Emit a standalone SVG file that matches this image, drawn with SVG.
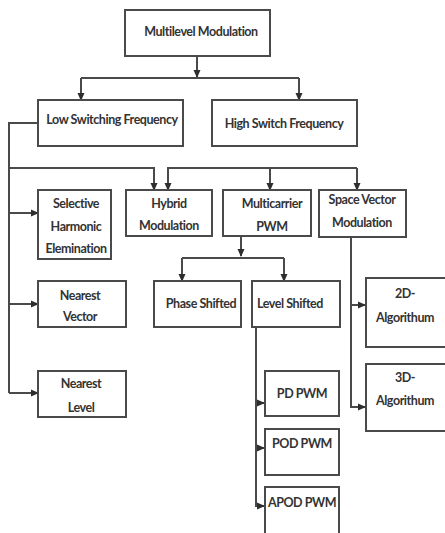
<svg xmlns="http://www.w3.org/2000/svg" width="445" height="533" viewBox="0 0 445 533">
<defs>
<marker id="ah" viewBox="0 0 8 8" refX="7" refY="4" markerWidth="8" markerHeight="8" markerUnits="userSpaceOnUse" orient="auto">
<path d="M0,0.5 L8,4 L0,7.5 Z" fill="#2e2e2e"/>
</marker>
</defs>
<style>
.box{fill:#fff;stroke:#4a4a4a;stroke-width:2}
.t{font-family:Lato,"Open Sans","Liberation Sans",sans-serif;font-weight:bold;font-size:12.5px;fill:#333;text-anchor:middle;letter-spacing:-0.45px}
.c{fill:none;stroke:#4a4a4a;stroke-width:2}
.a{fill:none;stroke:#4a4a4a;stroke-width:2;marker-end:url(#ah)}
</style>
<rect width="445" height="533" fill="#fff"/>
<g id="connectors">
<path class="a" d="M197,56 V77"/>
<path class="c" d="M81,78 H299"/>
<path class="a" d="M81,78 V100"/>
<path class="a" d="M299,78 V100"/>
<path class="c" d="M38,123 H9 V393"/>
<path class="a" d="M9,393 H38"/>
<path class="a" d="M9,213 H38"/>
<path class="a" d="M9,304 H38"/>
<path class="a" d="M9,168 H154 V190"/>
<path class="a" d="M357,168 H168 V190"/>
<path class="a" d="M357,168 V190"/>
<path class="a" d="M270,168 V190"/>
<path class="a" d="M241,236 V256"/>
<path class="c" d="M182,258 H284"/>
<path class="a" d="M182,258 V281"/>
<path class="a" d="M284,258 V281"/>
<path class="c" d="M256,327 V506"/>
<path class="a" d="M255,506 H264"/>
<path class="a" d="M255,403 H264"/>
<path class="a" d="M255,448 H264"/>
<path class="c" d="M351,237 V407"/>
<path class="a" d="M350,407 H365"/>
<path class="a" d="M350,305 H365"/>
</g>
<g id="n-multilevel"><rect class="box" x="125" y="10" width="145" height="46"/><text class="t" x="201" y="36">Multilevel Modulation</text></g>
<g id="n-low"><rect class="box" x="38" y="100" width="145" height="46"/><text class="t" x="112" y="124">Low Switching Frequency</text></g>
<g id="n-high"><rect class="box" x="212" y="100" width="145" height="46"/><text class="t" x="284" y="128">High Switch Frequency</text></g>
<g id="n-she"><rect class="box" x="38" y="190" width="73" height="69"/><text class="t" x="76" y="208">Selective</text><text class="t" x="76" y="231">Harmonic</text><text class="t" x="76" y="253">Elemination</text></g>
<g id="n-hybrid"><rect class="box" x="126" y="190" width="86" height="46"/><text class="t" x="169" y="208">Hybrid</text><text class="t" x="169" y="230">Modulation</text></g>
<g id="n-multicarrier"><rect class="box" x="223" y="190" width="88" height="46"/><text class="t" x="272" y="208">Multicarrier</text><text class="t" x="272" y="231">PWM</text></g>
<g id="n-svm"><rect class="box" x="319" y="190" width="87" height="47"/><text class="t" x="362" y="204">Space Vector</text><text class="t" x="362" y="227">Modulation</text></g>
<g id="n-nv"><rect class="box" x="38" y="281" width="88" height="46"/><text class="t" x="80" y="300">Nearest</text><text class="t" x="80" y="321">Vector</text></g>
<g id="n-phase"><rect class="box" x="154" y="281" width="87" height="46"/><text class="t" x="201" y="308">Phase Shifted</text></g>
<g id="n-level"><rect class="box" x="252" y="281" width="88" height="46"/><text class="t" x="290" y="308">Level Shifted</text></g>
<g id="n-2d"><rect class="box" x="366" y="278" width="82" height="69"/><text class="t" x="405" y="298">2D-</text><text class="t" x="405" y="322">Algorithum</text></g>
<g id="n-nl"><rect class="box" x="38" y="371" width="88" height="46"/><text class="t" x="81" y="388">Nearest</text><text class="t" x="81" y="412">Level</text></g>
<g id="n-pd"><rect class="box" x="265" y="371" width="74" height="45"/><text class="t" x="302" y="398">PD PWM</text></g>
<g id="n-pod"><rect class="box" x="265" y="429" width="74" height="46"/><text class="t" x="302" y="448">POD PWM</text></g>
<g id="n-apod"><rect class="box" x="265" y="487" width="74" height="50"/><text class="t" x="302" y="507">APOD PWM</text></g>
<g id="n-3d"><rect class="box" x="366" y="364" width="82" height="67"/><text class="t" x="405" y="382">3D-</text><text class="t" x="405" y="405">Algorithum</text></g>
</svg>
